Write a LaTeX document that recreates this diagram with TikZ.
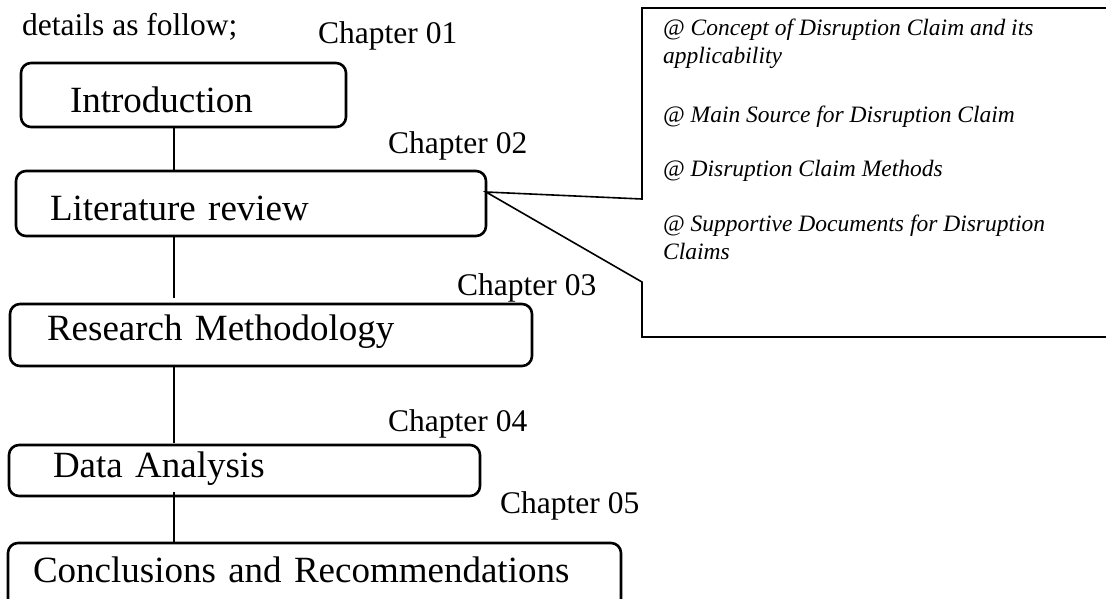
\documentclass[tikz,border=0pt]{standalone}
\usepackage{fontspec}
\setmainfont{Liberation Serif}
\usetikzlibrary{calc}
\newcommand{\boxfont}{\fontsize{37}{40}\selectfont}
\newcommand{\chapfont}{\fontsize{31.5}{34}\selectfont}
\newcommand{\notefont}{\fontsize{23.5}{28}\selectfont\itshape}

\begin{document}
\begin{tikzpicture}[x=1pt,y=-1pt,
    chapbox/.style={draw,line width=2.6pt,rounded corners=10pt,anchor=north west,
      align=left,inner ysep=0pt,outer sep=0pt,font=\boxfont},
    chaplabel/.style={anchor=base west,inner sep=0pt,font=\chapfont},
    link/.style={line width=1.3pt},
    notebox/.style={line width=1.6pt}]
  \useasboundingbox (0,0) rectangle (1106,598);
  \clip (0,0) rectangle (1106,598);

  \node[chaplabel] (lead) at (22,35) {details as follow;};

  % chapter boxes
  \node[chapbox,inner xsep=49pt,text width=227pt,minimum height=64pt,
    text height=49pt,text depth=15pt] (intro) at (21,63) {Introduction};
  \node[chapbox,inner xsep=34pt,text width=402pt,minimum height=65pt,
    text height=49pt,text depth=16pt] (litrev) at (16,171) {Literature review};
  \node[chapbox,inner xsep=37pt,text width=448pt,minimum height=62pt,
    text height=36pt,text depth=26pt] (method) at (10,304) {Research Methodology};
  \node[chapbox,inner xsep=44pt,text width=383pt,minimum height=51pt,
    text height=32pt,text depth=19pt] (analysis) at (9,445) {Data Analysis};
  \node[chapbox,inner xsep=25pt,text width=563pt,minimum height=97pt,
    text height=39pt,text depth=58pt] (concl) at (8,543) {Conclusions and Recommendations};

  \node[chaplabel] (chap1) at (318,43) {Chapter 01};
  \node[chaplabel] (chap2) at (388,153) {Chapter 02};
  \node[chaplabel] (chap3) at (457,295) {Chapter 03};
  \node[chaplabel] (chap4) at (388,431) {Chapter 04};
  \node[chaplabel] (chap5) at (500,513) {Chapter 05};

  % spine
  \coordinate (spine) at (174,0);
  \draw[link] (intro.south -| spine) -- (litrev.north -| spine);
  \draw[link,shorten >=6pt] (litrev.south -| spine) -- (method.north -| spine);
  \draw[link,shorten >=2pt] (method.south -| spine) -- (analysis.north -| spine);
  \draw[link,shorten <=-4pt] (analysis.south -| spine) -- (concl.north -| spine);

  % topics of chapter 02 (base = last line)
  \node[anchor=base west,align=left,inner sep=0pt,font=\notefont] (notes) at (663,259)
    {@ Concept of Disruption Claim and its\\applicability\\[31pt]
     @ Main Source for Disruption Claim\\[26pt]
     @ Disruption Claim Methods\\[27pt]
     @ Supportive Documents for Disruption\\Claims};
  \coordinate (tip) at (litrev.east |- 0,192);
  \draw[notebox,line join=miter] (1115,8) -- (642,8) -- (642,199) -- (tip)
    -- (642,282) -- (642,337) -- (1115,337);
\end{tikzpicture}
\end{document}
